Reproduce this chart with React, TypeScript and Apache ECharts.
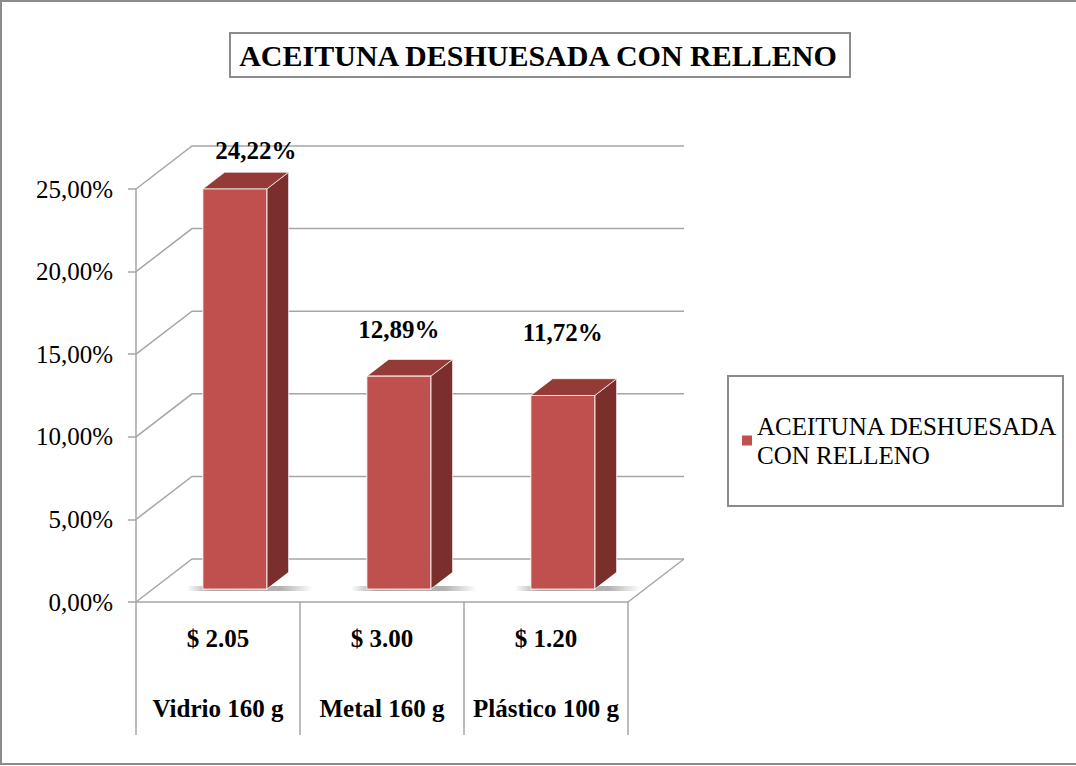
import React, { useEffect, useRef } from 'react';
import * as echarts from 'echarts';

// ---- data ----
const chartTitle = 'ACEITUNA DESHUESADA CON RELLENO';
const seriesName = 'ACEITUNA DESHUESADA CON RELLENO';
const legendLines = ['ACEITUNA DESHUESADA', 'CON RELLENO'];
const categories = ['Vidrio 160 g', 'Metal 160 g', 'Plástico 100 g'];
const prices = ['$ 2.05', '$ 3.00', '$ 1.20'];
const values = [24.22, 12.89, 11.72];
const yTicks = [0, 5, 10, 15, 20, 25];

// ---- styles ----
const FONT = '"Liberation Serif", "Times New Roman", serif';
const DX = 56; // 3D depth offset (px)
const DY = 43;
const BAR_POS = 0.3; // depth position of bar front face (fraction)
const BAR_DEPTH = 0.39; // bar depth (fraction of total depth)
const BAR_WIDTH = 0.39; // bar width as fraction of band
const GRID_COLOR = '#a6a6a6';
const FRONT = '#C0504D';
const TOP = '#943B38';
const SIDE = '#7B2F2D';
const labelNudge = [[21, 9], [0, 0], [0, -16]];

const fmtPct = (v: number) => v.toFixed(2).replace('.', ',') + '%';

export default function App() {
  const ref = useRef<HTMLDivElement>(null);
  useEffect(() => {
    if (!ref.current) return;
    const chart = echarts.init(ref.current, null, { renderer: 'svg' });
    const option: any = {
      animation: false,
      backgroundColor: '#fff',
      title: {
        text: chartTitle,
        left: 'center',
        top: 40,
        padding: 0,
        textStyle: { fontFamily: FONT, fontSize: 30, fontWeight: 'bold', color: '#000' },
      },
      legend: {
        data: [seriesName],
        left: 742,
        top: 397,
        padding: 0,
        orient: 'vertical',
        itemWidth: 10,
        itemHeight: 10,
        icon: 'rect',
        formatter: () => legendLines.join('\n'),
        textStyle: { fontFamily: FONT, fontSize: 25, color: '#000', lineHeight: 29, padding: [29, 0, 0, 0] },
      },
      grid: { left: 136, top: 189, width: 492, height: 413 },
      xAxis: {
        type: 'category',
        data: categories,
        axisLine: { show: true, lineStyle: { color: GRID_COLOR, width: 1.5 } },
        axisTick: { show: true, alignWithLabel: false, interval: 0, length: 133, lineStyle: { color: GRID_COLOR, width: 1.5 } },
        axisLabel: {
          margin: 1,
          interval: 0,
          formatter: (v: string, i: number) => `{p|${prices[i]}}\n{n|${v}}`,
          rich: {
            p: { fontFamily: FONT, fontSize: 25, fontWeight: 'bold', color: '#000', lineHeight: 70 },
            n: { fontFamily: FONT, fontSize: 25, fontWeight: 'bold', color: '#000', lineHeight: 70 },
          },
        },
      },
      yAxis: {
        type: 'value',
        min: 0,
        max: 25,
        interval: 5,
        axisLine: { show: true, lineStyle: { color: GRID_COLOR, width: 1.5 } },
        axisTick: { show: true, length: 8, lineStyle: { color: GRID_COLOR, width: 1.5 } },
        splitLine: { show: false },
        axisLabel: {
          margin: 23,
          formatter: (v: number) => fmtPct(v),
          fontFamily: FONT,
          fontSize: 25,
          color: '#000',
        },
      },
      graphic: [
        { type: 'rect', shape: { x: 1, y: 1, width: 1090, height: 763 }, style: { fill: 'none', stroke: '#8c8c8c', lineWidth: 2 }, silent: true },
        { type: 'rect', shape: { x: 230, y: 33, width: 620, height: 44 }, style: { fill: 'none', stroke: '#8c8c8c', lineWidth: 2 }, silent: true },
        { type: 'rect', shape: { x: 728, y: 376, width: 335, height: 130 }, style: { fill: 'none', stroke: '#8c8c8c', lineWidth: 2 }, silent: true },
      ],
      series: [
        {
          name: 'walls',
          type: 'custom',
          silent: true,
          z: 1,
          data: yTicks.map((v) => [0, v]),
          encode: { x: 0, y: 1 },
          renderItem: (params: any, api: any) => {
            const cs = params.coordSys;
            const v = api.value(1);
            const y = api.coord([0, v])[1];
            const x0 = cs.x;
            const x1 = cs.x + cs.width;
            const children: any[] = [
              {
                type: 'polyline',
                shape: { points: [[x0, y], [x0 + DX, y - DY], [x1 + DX, y - DY]] },
                style: { stroke: GRID_COLOR, lineWidth: 1.5, fill: null },
              },
            ];
            if (v === 0) {
              children.push({
                type: 'line',
                shape: { x1: x1, y1: y, x2: x1 + DX, y2: y - DY },
                style: { stroke: GRID_COLOR, lineWidth: 1.5 },
              });
            }
            return { type: 'group', children };
          },
        },
        {
          name: seriesName,
          type: 'custom',
          z: 3,
          itemStyle: { color: FRONT },
          data: values.map((v, i) => [i, v]),
          encode: { x: 0, y: 1 },
          renderItem: (params: any, api: any) => {
            const i = api.value(0);
            const v = api.value(1);
            const base = api.coord([i, 0]);
            const top = api.coord([i, v]);
            const bw = api.size([1, 0])[0];
            const w = bw * BAR_WIDTH;
            const ox = DX * BAR_POS;
            const oy = DY * BAR_POS;
            const dx = DX * BAR_DEPTH;
            const dy = DY * BAR_DEPTH;
            const L = base[0] + ox - w / 2;
            const B = base[1] - oy;
            const T = top[1] - oy;
            const nudge = labelNudge[params.dataIndex] || [0, 0];
            return {
              type: 'group',
              children: [
                {
                  type: 'rect',
                  shape: { x: L - 16, y: B - 3, width: w + dx + 40, height: 5 },
                  style: {
                    fill: new echarts.graphic.LinearGradient(0, 0, 1, 0, [
                      { offset: 0, color: 'rgba(0,0,0,0)' },
                      { offset: 0.2, color: 'rgba(0,0,0,0.35)' },
                      { offset: 0.75, color: 'rgba(0,0,0,0.3)' },
                      { offset: 1, color: 'rgba(0,0,0,0)' },
                    ]),
                  },
                },
                {
                  type: 'polygon',
                  shape: { points: [[L + w, T], [L + w + dx, T - dy], [L + w + dx, B - dy], [L + w, B]] },
                  style: { fill: SIDE, stroke: 'rgba(255,255,255,0.7)', lineWidth: 1 },
                },
                {
                  type: 'polygon',
                  shape: { points: [[L, T], [L + dx, T - dy], [L + w + dx, T - dy], [L + w, T]] },
                  style: { fill: TOP, stroke: 'rgba(255,255,255,0.7)', lineWidth: 1 },
                },
                {
                  type: 'rect',
                  shape: { x: L, y: T, width: w, height: B - T },
                  style: { fill: FRONT, stroke: 'rgba(255,255,255,0.75)', lineWidth: 1.2 },
                },
                {
                  type: 'text',
                  x: L + w / 2 + nudge[0],
                  y: T - 47 + nudge[1],
                  style: {
                    text: fmtPct(v),
                    fontFamily: FONT,
                    fontSize: 25,
                    fontWeight: 'bold',
                    fill: '#000',
                    align: 'center',
                    verticalAlign: 'middle',
                  },
                },
              ],
            };
          },
        },
      ],
    };
    chart.setOption(option);
    return () => chart.dispose();
  }, []);
  return (
    <div
      ref={ref}
      style={{ position: 'absolute', left: 0, top: 0, width: 1076, height: 766, background: '#fff' }}
    />
  );
}
